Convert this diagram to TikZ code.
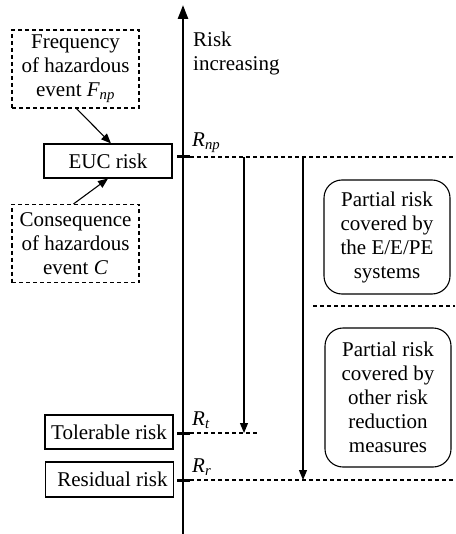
\documentclass[tikz,border=0pt]{standalone}
\usepackage{fontspec}
\setmainfont{Liberation Serif}
\usetikzlibrary{arrows.meta, positioning}

\begin{document}
\begin{tikzpicture}[
        x=1pt, y=-1pt,
        font=\fontsize{21}{24}\selectfont,
        box/.style={rectangle, draw, line width=1.1pt, minimum width=128pt, minimum height=34pt, inner sep=2pt, align=center},
        dashbox/.style={rectangle, draw, dash pattern=on 4pt off 3pt, line width=1.1pt, minimum width=127pt, minimum height=78pt, inner sep=2pt, align=center},
        roundbox/.style={rectangle, draw, rounded corners=18pt, line width=1.1pt, minimum width=126pt, align=center},
        arrow/.style={-{Triangle[length=10pt,width=8pt]}, line width=1.1pt},
        level/.style={dash pattern=on 4pt off 3pt, line width=1.1pt},
        tick/.style={line width=3pt}
    ]
    \useasboundingbox (0,0) rectangle (455,534);

    % Levels on the axis
    \coordinate (np) at (183,157);
    \coordinate (t) at (183,433);
    \coordinate (r) at (183,480);
    \coordinate (top) at (183,5);
    \coordinate (bottom) at (183,534);

    % Axis
    \draw[line width=2.6pt, -{Triangle[length=14pt,width=10pt]}] (bottom) -- (top);
    \node[anchor=north west, align=left, inner sep=0pt] (axislabel) at (193,32) {Risk\\increasing};

    % Ticks and labels
    \foreach \lv/\lab in {np/np, t/t, r/r} {
        \draw[tick] ([xshift=-6pt]\lv) -- ([xshift=7pt]\lv);
        \node[anchor=south west, inner sep=1pt] (lab\lv) at ([xshift=8pt, yshift=3pt]\lv) {\textit{R\textsubscript{\lab}}};
    }

    % Dashed level lines
    \coordinate (npend) at (455,157);
    \coordinate (tend) at (257,433);
    \coordinate (rend) at (455,480);
    \draw[level] ([xshift=7pt]np) -- (npend);
    \draw[level] ([xshift=7pt]t) -- (tend);
    \draw[level] ([xshift=7pt]r) -- (rend);

    % Left nodes
    \node[dashbox] (freq) at (75.5,69) {Frequency\\of hazardous\\event \textit{F\textsubscript{np}}};
    \node[box] (euc) at (108,161) {EUC risk};
    \node[dashbox] (cons) at (75.5,243.5) {Consequence\\of hazardous\\event \textit{C}};
    \node[box] (tol) at (109,432) {Tolerable risk};
    \node[box, minimum height=35pt] (res) at (109.5,479.5) {\hspace*{6pt}Residual risk};

    \draw[arrow] ([xshift=1pt]freq.south) -- ([xshift=3pt]euc.north);
    \draw[arrow] ([xshift=-2pt]cons.north) -- ([xshift=0pt]euc.south);

    % Reduction arrows
    \coordinate (a1) at (244,0);
    \coordinate (a2) at (303,0);
    \draw[arrow] (a1 |- np) -- (a1 |- t);
    \draw[arrow] (a2 |- np) -- (a2 |- r);

    % Right boxes
    \node[roundbox, minimum height=114pt] (eepe) at (387,237) {Partial risk\\covered by\\the E/E/PE\\systems};
    \coordinate (sepstart) at (313,306);
    \coordinate (sepend) at (455,306);
    \draw[level] (sepstart) -- (sepend);
    \node[roundbox, minimum height=139pt] (other) at (388,397.5) {Partial risk\\covered by\\other risk\\reduction\\measures};

\end{tikzpicture}
\end{document}
